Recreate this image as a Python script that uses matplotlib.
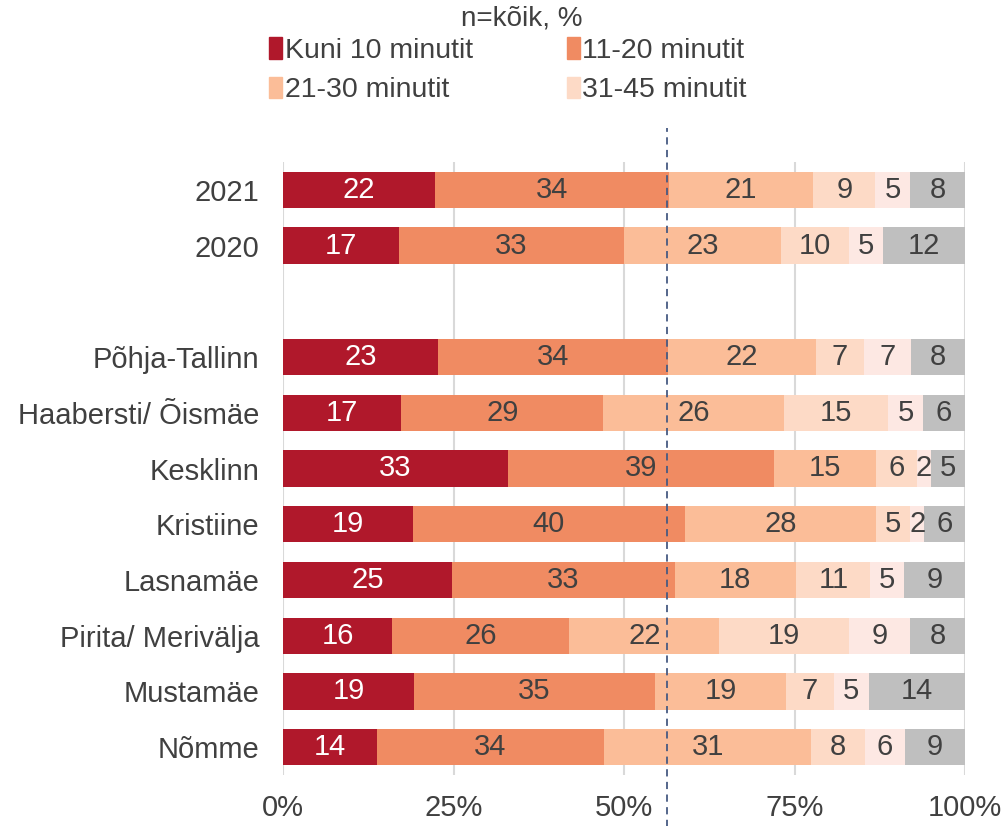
import numpy as np
import matplotlib
matplotlib.use("Agg")
import matplotlib.pyplot as plt
from matplotlib.patches import Patch
import matplotlib.transforms as mtransforms

plt.rcParams["font.family"] = ["Liberation Sans", "DejaVu Sans"]

# ── data ────────────────────────────────────────────────────────────
categories = ["2021", "2020", "", "Põhja-Tallinn", "Haabersti/ Õismäe", "Kesklinn",
              "Kristiine", "Lasnamäe", "Pirita/ Merivälja", "Mustamäe", "Nõmme"]
series_names = ["Kuni 10 minutit", "11-20 minutit", "21-30 minutit", "31-45 minutit",
                "46-60 minutit", "Ei oska öelda"]
kuni10 = [22, 17, 0, 23, 17, 33, 19, 25, 16, 19, 14]
m11_20 = [34, 33, 0, 34, 29, 39, 40, 33, 26, 35, 34]
m21_30 = [21, 23, 0, 22, 26, 15, 28, 18, 22, 19, 31]
m31_45 = [9, 10, 0, 7, 15, 6, 5, 11, 19, 7, 8]
m46_60 = [5, 5, 0, 7, 5, 2, 2, 5, 9, 5, 6]
eos = [8, 12, 0, 8, 6, 5, 6, 9, 8, 14, 9]
ref_line = 56.3
xticks = [0, 25, 50, 75, 100]

colors = ["#B0182B", "#F08B62", "#FBBD98", "#FDDAC6", "#FDE8E3", "#BFBFBF"]
text_colors = ["white", "#404040", "#404040", "#404040", "#404040", "#404040"]

data = np.array([kuni10, m11_20, m21_30, m31_45, m46_60, eos], dtype=float)
totals = data.sum(axis=0)
totals[totals == 0] = 1
shares = data / totals * 100

fig = plt.figure(figsize=(10.04, 8.26), dpi=100)
ax = fig.add_axes([283 / 1004, 51 / 826, 682 / 1004, 613 / 826])

y = np.arange(len(categories))
left = np.zeros(len(categories))
for i in range(len(series_names)):
    ax.barh(y, shares[i], left=left, height=0.65, color=colors[i],
            label=series_names[i], zorder=2)
    for j in range(len(categories)):
        if data[i, j] > 0:
            ax.text(left[j] + shares[i, j] / 2, y[j], f"{int(data[i, j])}",
                    ha="center", va="center", fontsize=21, color=text_colors[i], zorder=3)
    left += shares[i]

ax.set_xlim(0, 100)
ax.set_ylim(len(categories) - 0.5, -0.5)
ax.set_yticks(y)
ax.set_yticklabels(categories, fontsize=21, color="#404040")
ax.set_xticks(xticks)
ax.set_xticklabels([f"{t}%" for t in xticks], fontsize=21, color="#404040")
ax.tick_params(axis="y", length=0, pad=17)
ax.tick_params(axis="x", length=0, pad=14)
for t in xticks:
    ax.axvline(t, color="#D9D9D9", linewidth=1.5, zorder=1)
for s in ax.spines.values():
    s.set_visible(False)

# dashed reference line, extends outside the plot area
trans = mtransforms.blended_transform_factory(ax.transData, ax.transAxes)
ax.plot([ref_line, ref_line], [-0.09, 1.055], transform=trans, clip_on=False,
        color="#475A82", linestyle=(0, (4, 3)), linewidth=1.3, zorder=4)

fig.text(0.52, 0.977, "n=kõik, %", ha="center", va="center", fontsize=20, color="#404040")

handles = [Patch(color=colors[k]) for k in (0, 2, 1, 3)]
labels = [series_names[k] for k in (0, 2, 1, 3)]
fig.legend(handles, labels, ncol=2, loc="center", bbox_to_anchor=(0.506, 0.915),
           frameon=False, fontsize=20.5, labelcolor="#404040", handlelength=0.45,
           handleheight=0.8, handletextpad=0.1, columnspacing=3.3, labelspacing=0.45)

fig.savefig("out.png", dpi=100)
